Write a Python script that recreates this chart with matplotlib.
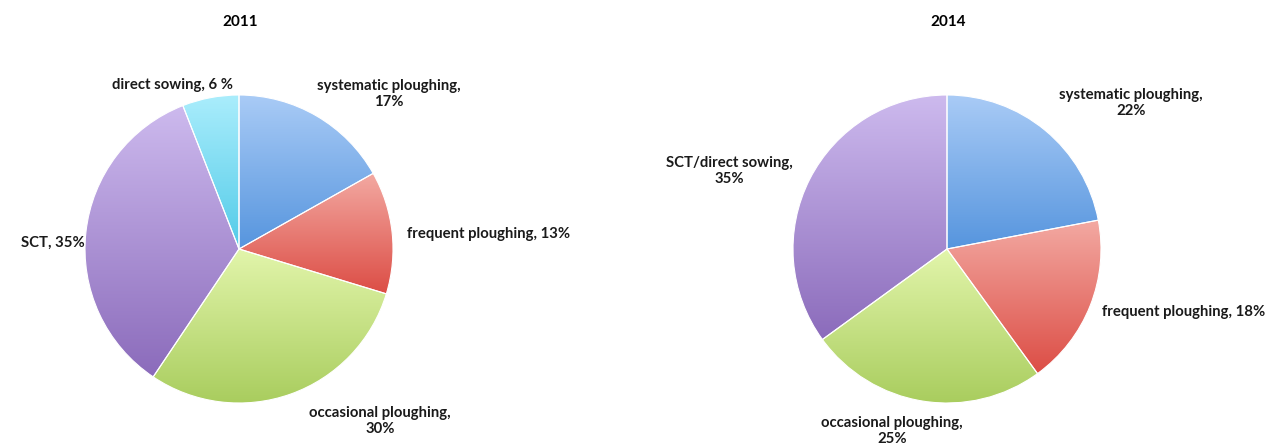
import numpy as np
import matplotlib.pyplot as plt
from matplotlib.colors import LinearSegmentedColormap

plt.rcParams['font.family'] = ['Lato', 'DejaVu Sans']

# shares of tillage systems per survey year
years = ['2011', '2014']
labels_2011 = ['systematic ploughing', 'frequent ploughing', 'occasional ploughing', 'SCT', 'direct sowing']
share_2011 = [17, 13, 30, 35, 6]
labels_2014 = ['systematic ploughing', 'frequent ploughing', 'occasional ploughing', 'SCT/direct sowing']
share_2014 = [22, 18, 25, 35]

# light (top) / dark (bottom) gradient per slice
grad_2011 = [('#a9cbf6', '#5695de'), ('#f3a9a2', '#dc4d45'), ('#e2f5ab', '#a9cd5e'),
             ('#cdbaee', '#8b6bbb'), ('#aaedfc', '#52cbe8')]
grad_2014 = [('#a9cbf6', '#5695de'), ('#f3a9a2', '#dc4d45'), ('#e2f5ab', '#a9cd5e'),
             ('#cdbaee', '#8b6bbb')]

W, H = 1285, 448
fig = plt.figure(figsize=(W / 100, H / 100), dpi=100)
ax = fig.add_axes([0, 0, 1, 1])
ax.set_xlim(0, W)
ax.set_ylim(0, H)
ax.set_aspect('equal')
ax.axis('off')


def gradient_pie(values, grads, center, radius):
    wedges, _ = ax.pie(values, startangle=90, counterclock=False, center=center,
                       radius=radius, wedgeprops=dict(edgecolor='white', linewidth=0.8))
    for w, (top, bottom) in zip(wedges, grads):
        ext = w.get_path().get_extents()
        cmap = LinearSegmentedColormap.from_list('g', [bottom, top])
        grad = np.linspace(0, 1, 256).reshape(-1, 1)
        im = ax.imshow(grad, cmap=cmap, origin='lower', aspect='auto',
                       extent=[ext.x0, ext.x1, ext.y0, ext.y1], zorder=w.get_zorder() - 0.1)
        im.set_clip_path(w)
        w.set_facecolor('none')
    return wedges


def y(px):
    return H - px


c1 = (239, y(249))
c2 = (947, y(249))
gradient_pie(share_2011, grad_2011, c1, 154)
gradient_pie(share_2014, grad_2014, c2, 154)

# restore limits after pie() changes them
ax.set_xlim(0, W)
ax.set_ylim(0, H)

kw = dict(fontsize=10.7, fontweight='bold', color='#1a1a1a', va='center')
ax.text(240, y(22), years[0], ha='center', fontsize=11, fontweight='bold', va='center')
ax.text(948, y(22), years[1], ha='center', fontsize=11, fontweight='bold', va='center')

ax.text(389, y(94), f'{labels_2011[0]},\n{share_2011[0]}%', ha='center', linespacing=1.25, **kw)
ax.text(407, y(234), f'{labels_2011[1]}, {share_2011[1]}%', ha='left', **kw)
ax.text(380, y(421), f'{labels_2011[2]},\n{share_2011[2]}%', ha='center', linespacing=1.25, **kw)
ax.text(21, y(243), f'{labels_2011[3]}, {share_2011[3]}%', ha='left', **kw)
ax.text(172, y(85), f'{labels_2011[4]}, {share_2011[4]} %', ha='center', **kw)

ax.text(1131, y(103), f'{labels_2014[0]},\n{share_2014[0]}%', ha='center', linespacing=1.25, **kw)
ax.text(1102, y(312), f'{labels_2014[1]}, {share_2014[1]}%', ha='left', **kw)
ax.text(892, y(431), f'{labels_2014[2]},\n{share_2014[2]}%', ha='center', linespacing=1.25, **kw)
ax.text(729, y(171), f'{labels_2014[3]},\n{share_2014[3]}%', ha='center', linespacing=1.25, **kw)

fig.savefig('out.png', dpi=100, facecolor='white')
